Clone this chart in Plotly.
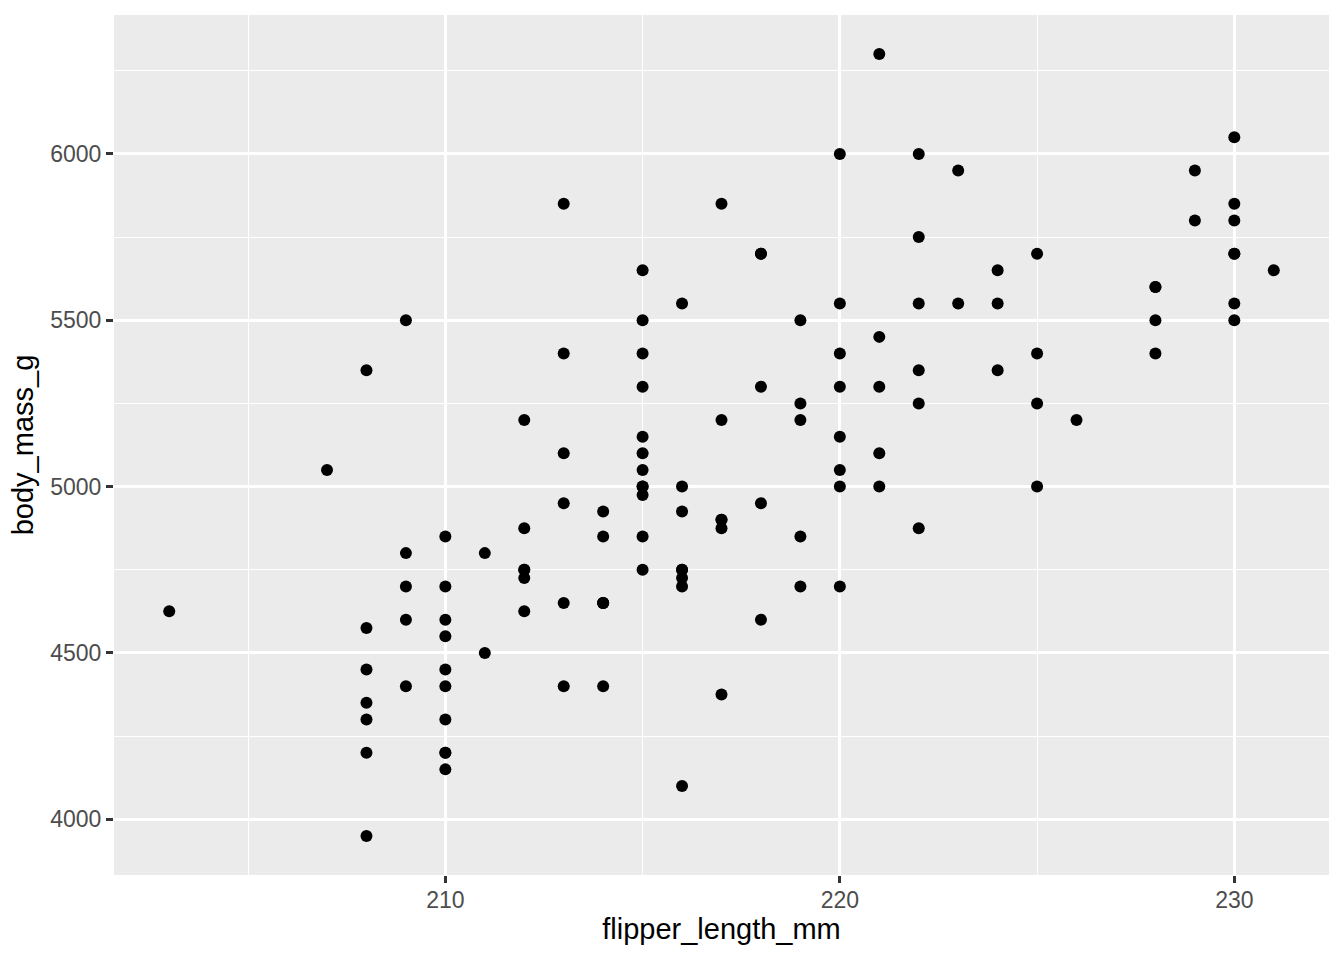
import plotly.graph_objects as go

flipper_length_mm = [
    211, 230, 210, 218, 215, 210, 211, 219, 209, 215, 214, 216, 214, 213, 210, 217,
    210, 221, 209, 222, 218, 215, 213, 215, 215, 215, 216, 215, 210, 220, 222, 209,
    207, 230, 220, 220, 213, 219, 208, 208, 208, 225, 210, 216, 222, 217, 210, 225,
    213, 215, 210, 220, 210, 225, 217, 220, 208, 220, 208, 224, 208, 221, 214, 231,
    219, 230, 214, 229, 220, 223, 216, 221, 221, 217, 216, 230, 209, 220, 215, 223,
    212, 221, 212, 224, 212, 228, 218, 218, 212, 230, 218, 228, 212, 224, 214, 226,
    216, 222, 203, 225, 219, 228, 215, 228, 216, 215, 210, 219, 208, 209, 216, 229,
    213, 230, 217, 230, 217, 222, 214, 215, 222, 212, 213,
]
body_mass_g = [
    4500, 5700, 4450, 5700, 5400, 4550, 4800, 5200, 4400, 5150, 4650, 5550, 4650, 5850, 4200, 5850,
    4150, 6300, 4800, 5350, 5700, 5000, 4400, 5050, 5000, 5100, 4100, 5650, 4600, 5550, 5250, 4700,
    5050, 6050, 5150, 5400, 4950, 5250, 4350, 5350, 3950, 5700, 4300, 4750, 5550, 4900, 4200, 5400,
    5100, 5300, 4850, 5300, 4400, 5000, 4900, 5050, 4300, 5000, 4450, 5550, 4200, 5300, 4400, 5650,
    4700, 5700, 4650, 5800, 4700, 5550, 4750, 5000, 5100, 5200, 4700, 5800, 4600, 6000, 4750, 5950,
    4625, 5450, 4725, 5350, 4750, 5600, 4600, 5300, 4875, 5550, 4950, 5400, 4750, 5650, 4850, 5200,
    4925, 4875, 4625, 5250, 4850, 5600, 4975, 5500, 4725, 5500, 4700, 5500, 4575, 5500, 5000, 5950,
    4650, 5500, 4375, 5850, 4875, 6000, 4925, 4850, 5750, 5200, 5400,
]

x_ticks = [210, 220, 230]
y_ticks = [4000, 4500, 5000, 5500, 6000]

fig = go.Figure(
    go.Scatter(
        x=flipper_length_mm,
        y=body_mass_g,
        mode="markers",
        marker=dict(color="black", size=12, line=dict(width=0)),
        hoverinfo="x+y",
    )
)

font_family = "Liberation Sans, Arial, sans-serif"

fig.update_layout(
    width=1344,
    height=960,
    margin=dict(l=114, r=15, t=15, b=85, autoexpand=False),
    paper_bgcolor="white",
    plot_bgcolor="#EBEBEB",
    showlegend=False,
    font=dict(family=font_family),
)

fig.update_xaxes(
    range=[201.6, 232.4],
    tickvals=x_ticks,
    ticktext=[str(v) for v in x_ticks],
    ticks="outside",
    ticklen=7,
    tickwidth=2.7,
    tickcolor="#333333",
    tickfont=dict(size=23, color="#4D4D4D", family=font_family),
    ticklabelstandoff=-3,
    showgrid=True,
    gridcolor="white",
    gridwidth=2.7,
    minor=dict(tickvals=[205, 215, 225], showgrid=True, gridcolor="white", gridwidth=1.3, ticks=""),
    zeroline=False,
    showline=False,
    title=dict(text="flipper_length_mm", font=dict(size=29, color="black", family=font_family), standoff=6),
    automargin=False,
)

fig.update_yaxes(
    range=[3832.5, 6417.5],
    tickvals=y_ticks,
    ticktext=[str(v) for v in y_ticks],
    ticks="outside",
    ticklen=7,
    tickwidth=2.7,
    tickcolor="#333333",
    tickfont=dict(size=23, color="#4D4D4D", family=font_family),
    showgrid=True,
    gridcolor="white",
    gridwidth=2.7,
    minor=dict(tickvals=[4250, 4750, 5250, 5750, 6250], showgrid=True, gridcolor="white", gridwidth=1.3, ticks=""),
    zeroline=False,
    showline=False,
    title=dict(text="body_mass_g", font=dict(size=29, color="black", family=font_family), standoff=8),
    automargin=False,
)

fig.write_html(
    "out.html",
    config={"displayModeBar": False},
    post_script="document.body.style.margin='0';document.body.style.overflow='hidden';",
)
